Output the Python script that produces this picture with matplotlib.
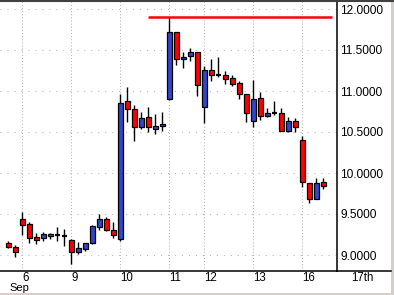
import matplotlib
matplotlib.use('Agg')
import matplotlib.pyplot as plt
from matplotlib.lines import Line2D
from matplotlib.patches import Rectangle
import numpy as np

plt.rcParams['font.family'] = ['Liberation Sans', 'DejaVu Sans']

# hourly candles, 5th (last 2) .. 16th Sep
opens  = [9.143, 9.094, 9.435, 9.374, 9.216, 9.204, 9.256, 9.238, 9.235,
          9.179, 9.040, 9.077, 9.143, 9.345, 9.435, 9.301,
          9.191, 10.874, 10.777, 10.565, 10.679, 10.540, 10.570,
          10.899, 11.716, 11.387, 11.423, 11.472,
          10.809, 11.252, 11.200, 11.199, 11.155, 11.094, 10.960,
          10.630, 10.911, 10.692, 10.730, 10.732, 10.516, 10.630,
          10.399, 9.874, 9.687, 9.890]
highs  = [9.167, 9.122, 9.524, 9.399, 9.265, 9.280, 9.272, 9.338, 9.317,
          9.195, 9.155, 9.150, 9.366, 9.500, 9.460, 9.399,
          10.963, 11.052, 10.829, 10.740, 10.801, 10.720, 10.744,
          11.906, 11.720, 11.479, 11.521, 11.472,
          11.301, 11.387, 11.415, 11.244, 11.191, 11.118, 10.960,
          11.134, 10.988, 10.796, 10.878, 10.796, 10.679, 10.667,
          10.451, 9.874, 9.935, 9.935]
lows   = [9.089, 8.979, 9.248, 9.150, 9.134, 9.174, 9.191, 9.174, 9.104,
          8.894, 9.012, 9.052, 9.130, 9.305, 9.296, 9.211,
          9.171, 10.626, 10.394, 10.540, 10.496, 10.476, 10.512,
          10.890, 11.317, 11.280, 11.366, 10.943,
          10.606, 11.126, 11.174, 11.082, 11.057, 10.902, 10.622,
          10.565, 10.646, 10.679, 10.704, 10.509, 10.500, 10.500,
          9.826, 9.638, 9.687, 9.805]
closes = [9.101, 9.040, 9.370, 9.211, 9.187, 9.256, 9.228, 9.238, 9.235,
          9.040, 9.082, 9.143, 9.350, 9.435, 9.309, 9.240,
          10.850, 10.777, 10.565, 10.667, 10.557, 10.570, 10.598,
          11.716, 11.387, 11.415, 11.472, 11.077,
          11.252, 11.191, 11.200, 11.143, 11.082, 10.960, 10.728,
          10.899, 10.695, 10.732, 10.730, 10.509, 10.630, 10.557,
          9.887, 9.687, 9.878, 9.845]

day_pos    = [2, 9, 16, 23, 28, 35, 42]
day_labels = ['6', '9', '10', '11', '12', '13', '16']
next_day_pos, next_day_label = 49, '17th'
month_label = 'Sep'
yticks = [9.0, 9.5, 10.0, 10.5, 11.0, 11.5, 12.0]

UP = '#3444cc'
DOWN = '#ff0000'

#######################################
W, H = 394, 295
fig = plt.figure(figsize=(W / 100.0, H / 100.0), dpi=100)
fig.patch.set_facecolor('white')
ax = fig.add_axes([0, (H - 271) / H, 337 / W, 271 / H])

ax.set_xlim(-1.19, 46.96)
ax.set_ylim(12 - 262 / 82.0, 12 + 9 / 82.0)

# grid
for v in yticks:
    ax.axhline(v, color='#b4b4b4', lw=0.75, ls=(0, (1, 5.7)), zorder=0)
for p in day_pos:
    ax.axvline(p, color='#b4b4b4', lw=0.75, ls=(0, (1, 2)), zorder=0)

# candles
bw = 0.66
for i in range(len(opens)):
    o, h, l, c = opens[i], highs[i], lows[i], closes[i]
    ax.plot([i, i], [l, h], color='black', lw=1.0, zorder=2,
            solid_capstyle='butt')
    if abs(c - o) < 0.002:
        ax.plot([i - bw / 2, i + bw / 2], [o, o], color='black', lw=1.6,
                zorder=3, solid_capstyle='butt')
        continue
    col = UP if c > o else DOWN
    ax.add_patch(Rectangle((i - bw / 2, min(o, c)), bw, abs(c - o),
                           facecolor=col, edgecolor='black', lw=0.9,
                           zorder=3))

# high line
ax.hlines(max(highs), 20, 46.2, color='red', lw=1.8, zorder=4)

# axes look
for s in ['left', 'top']:
    ax.spines[s].set_visible(False)
ax.spines['right'].set_color('black')
ax.spines['bottom'].set_color('black')
ax.spines['right'].set_linewidth(1.1)
ax.spines['bottom'].set_linewidth(1.1)

ax.yaxis.tick_right()
ax.set_yticks(yticks)
ax.set_yticklabels(['%.4f' % v for v in yticks], fontsize=8.6)
ax.tick_params(axis='y', length=0, pad=2.5)

ax.set_xticks(day_pos)
ax.set_xticklabels(day_labels, fontsize=8.3)
for lab in ax.get_xticklabels():
    lab.set_ha('left')
ax.tick_params(axis='x', length=0, pad=1.0)

tr = ax.get_xaxis_transform()
ax.text(next_day_pos, -0.0055, next_day_label, transform=tr, fontsize=8.3,
        ha='left', va='top', clip_on=False)
ax.text(0.1, -0.045, month_label, transform=tr, fontsize=8.0,
        ha='left', va='top', clip_on=False)

# outer frame
fig.add_artist(Line2D([337 / W, 391 / W], [(H - 271) / H, (H - 271) / H],
                      color='black', lw=1.1, transform=fig.transFigure))
fig.add_artist(Line2D([0, 1], [1 - 0.5 / H, 1 - 0.5 / H],
                      color='#404040', lw=1.5, transform=fig.transFigure))
fig.add_artist(Rectangle((0, 0), 1, 2.0 / H, facecolor='#d4d0c8',
                         edgecolor='none', transform=fig.transFigure))
fig.add_artist(Rectangle((391 / W, 0), 3 / W, 1, facecolor='#d4d0c8',
                         edgecolor='none', transform=fig.transFigure))

fig.savefig('out.png', dpi=100)
